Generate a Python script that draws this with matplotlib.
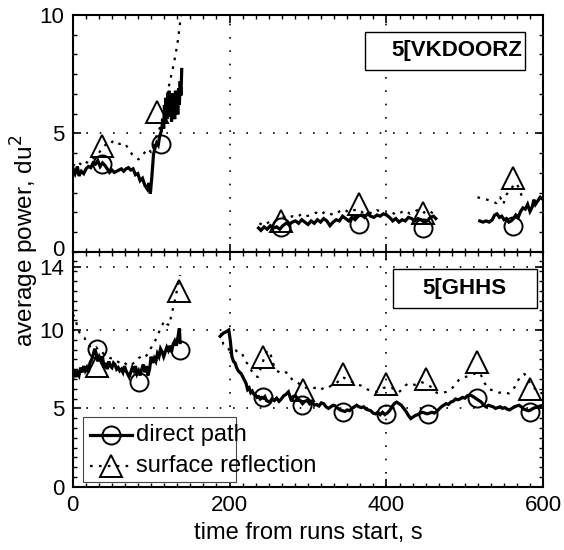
import numpy as np
import matplotlib
matplotlib.use("Agg")
import matplotlib.pyplot as plt
from matplotlib.ticker import MultipleLocator
from matplotlib.patches import Rectangle
from matplotlib.transforms import ScaledTranslation

plt.rcParams['font.family'] = ['Liberation Sans', 'DejaVu Sans']

nan = np.nan

# ---------------- top panel ("5[VKDOORZ") ----------------
top_direct_t = [0, 3, 6, 8, 11, 14, 17, 20, 23, 26, 29, 32, 35, 38, 41, 44, 47, 50, 53, 56, 59, 62, 65, 68, 71, 74, 77,
                80, 83, 86, 89, 92, 95, 97, 99, 101, 103, 105, 107, 109, 111, 113, 115, 116, 117, 118, 119, 120, 121,
                122, 123, 124, 125, 126, 127, 128, 129, 130, 131, 132, 133, 134, 135, 136, 137, 138, 139,
                nan,
                237, 240, 244, 248, 252, 256, 260, 264, 268, 272, 276, 280, 284, 288, 292, 296, 300, 304, 308, 312,
                316, 320, 324, 328, 332, 336, 340, 344, 348, 352, 356, 360, 364, 368, 372, 376, 380, 384, 388, 392,
                396, 400, 404, 408, 412, 416, 420, 424, 428, 432, 436, 440, 444, 448, 452, 456, 460, 463,
                nan,
                519, 523, 527, 531, 535, 538, 541, 544, 547, 550, 553, 556, 559, 562, 565, 568, 571, 574, 577, 580,
                583, 586, 588, 590, 593, 596, 600]
top_direct_v = [3.55, 3.3, 3.6, 3.2, 3.4, 3.3, 3.5, 3.6, 3.55, 3.75, 3.7, 3.85, 3.6, 3.75, 3.65, 3.5, 3.35, 3.45, 3.35,
                3.4, 3.45, 3.5, 3.4, 3.5, 3.55, 3.45, 3.5, 3.25, 3.3, 3.0, 3.1, 2.8, 2.65, 2.9, 2.45, 3.2, 4.1, 4.4,
                4.6, 4.5, 4.9, 5.1, 5.6, 5.2, 6.2, 5.5, 6.5, 5.6, 6.6, 5.7, 6.8, 5.8, 6.4, 5.5, 6.7, 5.9, 6.5, 5.6,
                6.8, 6.0, 6.6, 5.8, 6.9, 6.2, 7.2, 6.6, 7.7,
                nan,
                1.0, 0.9, 1.05, 0.95, 1.1, 1.0, 1.05, 0.95, 1.1, 1.2, 1.15, 1.25, 1.3, 1.2, 1.35, 1.25, 1.15, 1.3,
                1.2, 1.35, 1.25, 1.4, 1.3, 1.1, 1.25, 1.35, 1.3, 1.5, 1.4, 1.3, 1.45, 1.35, 1.5, 1.55, 1.45, 1.6,
                1.5, 1.45, 1.55, 1.5, 1.6, 1.55, 1.45, 1.3, 1.4, 1.25, 1.35, 1.3, 1.45, 1.4, 1.3, 1.4, 1.35, 1.25,
                1.3, 1.45, 1.5, 1.4,
                nan,
                1.3, 1.25, 1.3, 1.25, 1.35, 1.55, 1.6, 1.45, 1.5, 1.35, 1.4, 1.25, 1.3, 1.4, 1.55, 1.45, 1.7, 1.85,
                1.8, 2.0, 1.7, 1.9, 2.2, 2.0, 2.15, 2.3, 2.2]

top_surf_t = [0, 4, 8, 12, 16, 20, 24, 28, 32, 36, 40, 44, 48, 52, 56, 60, 64, 68, 72, 76, 80, 84, 88, 92, 96, 100,
              104, 108, 112, 116, 120, 124, 128, 131, 134, 137, 140,
              nan,
              238, 244, 250, 256, 262, 268, 274, 280, 286, 292, 298, 304, 310, 316, 322, 328, 334, 340, 346, 352,
              358, 364, 370, 376, 382, 388, 394, 400, 406, 412, 418, 424, 430, 436, 442, 448, 454, 460,
              nan,
              516, 522, 528, 534, 540, 545, 549, 553, 557, 561, 565, 569, 573]
top_surf_v = [3.7, 3.6, 3.75, 3.65, 3.8, 3.75, 3.9, 4.0, 4.1, 4.3, 4.45, 4.6, 4.55, 4.7, 4.6, 4.55, 4.6, 4.5, 4.3,
              4.1, 4.0, 3.9, 4.05, 4.2, 4.35, 4.2, 4.6, 5.0, 5.3, 5.9, 6.6, 7.2, 7.8, 8.3, 8.9, 9.7, 10.4,
              nan,
              1.2, 1.1, 1.25, 1.35, 1.3, 1.45, 1.4, 1.5, 1.45, 1.6, 1.5, 1.55, 1.65, 1.55, 1.7, 1.6, 1.55, 1.7,
              1.8, 1.65, 1.75, 1.8, 1.65, 1.7, 1.6, 1.75, 1.7, 1.6, 1.7, 1.55, 1.65, 1.75, 1.6, 1.7, 1.8, 1.65,
              1.75, 1.6,
              nan,
              2.3, 2.25, 2.2, 2.15, 2.05, 2.3, 2.0, 2.4, 2.6, 2.75, 2.9, 2.7, 2.3]

top_circ_t = [37, 112, 265, 365, 447, 561]
top_circ_v = [3.7, 4.55, 1.03, 1.18, 1.0, 1.1]
top_tri_t = [37, 108, 265, 365, 447, 561]
top_tri_v = [4.45, 5.9, 1.3, 2.0, 1.65, 3.1]

# ---------------- bottom panel ("5[GHHS") ----------------
bot_direct_t = [0, 2, 4, 6, 8, 10, 12, 14, 16, 18, 20, 22, 24, 26, 28, 30, 32, 34, 36, 38, 40, 42, 44, 46, 48, 50,
                52, 54, 56, 58, 60, 62, 64, 66, 68, 70, 72, 74, 76, 78, 80, 82, 84, 86, 88, 90, 92, 94, 96, 98,
                100, 102, 104, 106, 108, 110, 112, 114, 116, 118, 120, 122, 124, 126, 128, 130, 132, 134, 136, 137,
                nan,
                188, 192, 196, 199, 201, 203, 205, 207, 209, 211, 213, 215, 217, 219, 221, 223, 225, 227, 229, 231,
                233, 235, 237, 239, 241, 243, 245, 247, 249, 251, 254, 257, 260, 263, 266, 269, 272, 275, 278, 281,
                284, 287, 290, 293, 296, 299, 302, 305, 308, 311, 314, 317, 320, 323, 326, 329, 332, 335, 338, 341,
                344, 347, 350, 353, 356, 359, 362, 365, 368, 371, 374, 377, 380, 383, 386, 389, 392, 395, 398, 401,
                404, 407, 410, 413, 416, 419, 422, 425, 428, 431, 434, 437, 440, 443, 446, 449, 452, 455, 458, 461,
                464, 467, 470, 473, 476, 479, 482, 485, 488, 491, 494, 497, 500, 503, 506, 509, 512, 515, 518, 521,
                524, 527, 530, 533, 536, 539, 542, 545, 548, 551, 554, 557, 560, 563, 566, 569, 572, 575, 578, 581,
                584, 587, 590, 593, 596, 600]
bot_direct_v = [6.9, 7.5, 7.0, 7.3, 7.1, 7.6, 7.3, 7.7, 7.4, 7.6, 7.3, 7.9, 8.1, 8.4, 8.8, 8.5, 8.0, 8.3, 8.1, 8.3,
                7.6, 7.9, 7.5, 8.0, 7.7, 7.6, 7.9, 7.8, 7.5, 7.6, 7.4, 7.5, 7.3, 7.7, 7.4, 7.2, 7.0, 7.3, 7.6, 7.4,
                7.7, 7.2, 7.4, 7.1, 7.5, 7.8, 7.3, 7.7, 7.1, 7.5, 8.3, 7.9, 8.2, 8.0, 8.5, 8.3, 8.8, 8.6, 8.3, 8.6,
                8.9, 8.7, 9.0, 8.6, 9.1, 9.3, 9.0, 9.5, 10.1, 9.2,
                nan,
                9.6, 9.8, 9.9, 10.0, 9.3, 8.3, 8.0, 7.9, 7.6, 7.4, 7.3, 7.2, 7.0, 6.8, 6.6, 6.2, 6.3, 6.0, 6.1, 5.9,
                5.85, 5.7, 5.75, 5.6, 5.7, 5.65, 5.75, 5.5, 5.45, 5.4, 5.6, 5.5, 5.65, 5.45, 5.6, 5.8, 5.9, 6.05,
                5.6, 5.75, 5.8, 5.6, 5.5, 5.3, 5.45, 5.5, 5.3, 5.45, 5.2, 5.25, 5.15, 5.35, 5.3, 5.1, 5.0, 5.1, 5.2,
                5.15, 5.0, 4.9, 4.85, 4.8, 4.9, 4.85, 5.0, 5.1, 5.2, 5.1, 5.05, 5.1, 4.95, 4.9, 4.85, 4.7, 4.65,
                4.75, 4.6, 4.75, 4.6, 4.7, 4.85, 5.1, 5.3, 5.4, 5.3, 5.2, 5.0, 4.8, 4.55, 4.35, 4.45, 4.55, 4.6,
                4.7, 4.75, 4.7, 4.65, 4.7, 4.75, 4.7, 4.8, 4.95, 5.1, 5.2, 5.3, 5.25, 5.4, 5.45, 5.6, 5.55, 5.6,
                5.7, 5.65, 5.8, 5.85, 5.8, 5.7, 5.6, 5.5, 5.4, 5.2, 5.1, 5.2, 5.15, 5.1, 5.0, 5.05, 5.1, 5.0, 5.05,
                4.95, 4.9, 5.0, 5.1, 5.15, 5.2, 5.1, 4.95, 4.9, 4.85, 4.9, 5.0, 5.05, 5.1, 5.15, 5.2]

bot_surf_t = [0, 3, 6, 9, 12, 15, 18, 21, 24, 27, 30, 33, 36, 39, 42, 45, 48, 51, 54, 57, 60, 63, 66, 69, 72, 75,
              78, 81, 84, 87, 90, 93, 96, 99, 102, 105, 108, 111, 114, 117, 120, 123, 126, 129, 132, 135, 137,
              nan,
              189, 192, 196, 200, 204, 208, 212, 216, 220, 224, 228, 232, 236, 240, 244, 248, 252, 256, 260, 264,
              268, 272, 276, 280, 284, 288, 292, 296, 300, 304, 308, 312, 316, 320, 324, 328, 332, 336, 340, 344,
              348, 352, 356, 360, 364, 368, 372, 376, 380, 384, 388, 392, 396, 400, 404, 408, 412, 416, 420, 424,
              428, 432, 436, 440, 444, 448, 452, 456, 460, 464, 468, 472, 476, 480, 484, 488, 492, 496, 500, 504,
              508, 512, 516, 520, 524, 528, 532, 536, 540, 544, 548, 552, 556, 560, 564, 568, 572, 576, 580, 584,
              588, 592, 596, 600]
bot_surf_v = [11.0, 10.8, 10.2, 9.8, 9.6, 9.5, 9.2, 9.0, 8.9, 8.8, 8.9, 8.7, 8.7, 8.5, 8.4, 8.3, 8.2, 8.2, 8.1,
              8.0, 7.9, 7.8, 7.9, 7.8, 7.9, 7.8, 7.9, 8.0, 8.2, 8.3, 8.4, 8.3, 8.5, 8.8, 9.0, 9.3, 9.6, 10.0,
              10.3, 10.6, 10.4, 10.3, 11.0, 11.6, 12.3, 13.0, 13.5,
              nan,
              9.8, 9.1, 9.0, 8.7, 8.6, 8.7, 8.5, 8.5, 8.0, 7.8, 7.4, 7.1, 7.0, 7.6, 8.2, 8.7, 8.5, 7.8, 7.4, 7.3,
              7.2, 7.3, 7.2, 6.8, 6.7, 6.6, 6.4, 6.3, 6.35, 6.4, 6.3, 6.35, 6.2, 6.3, 6.25, 6.4, 6.55, 6.6, 6.8,
              7.0, 6.9, 6.75, 6.7, 6.6, 6.5, 6.45, 6.35, 6.2, 6.15, 6.1, 6.05, 6.15, 6.3, 6.35, 6.25, 6.3, 6.15,
              6.05, 6.2, 6.45, 6.6, 6.55, 6.5, 6.6, 6.7, 6.6, 6.5, 6.4, 6.2, 6.0, 5.95, 6.0, 6.05, 6.15, 6.3, 6.55,
              6.8, 6.95, 7.0, 7.05, 7.1, 7.2, 7.3, 7.2, 6.7, 6.4, 6.2, 6.15, 6.05, 6.0, 6.05, 6.0, 5.95, 6.1, 6.4,
              6.8, 7.1, 7.2, 6.9, 6.5, 6.35, 6.1, 5.95, 6.0]

bot_circ_t = [31, 84, 137, 243, 292, 345, 400, 453, 515, 583]
bot_circ_v = [8.8, 6.7, 8.75, 5.7, 5.2, 4.78, 4.67, 4.67, 5.63, 4.78]
bot_tri_t = [31, 135, 243, 294, 345, 399, 451, 515, 583]
bot_tri_v = [7.7, 12.5, 8.28, 6.16, 7.22, 6.55, 6.9, 7.96, 6.26]

panel_labels = ["5[VKDOORZ", "5[GHHS"]
legend_labels = ["direct path", "surface reflection"]
x_ticks = [0, 200, 400, 600]
top_yticks = [0, 5, 10]
bot_yticks = [0, 5, 10, 14]

# ---------------- figure ----------------
W, H = 564, 550
fig = plt.figure(figsize=(W / 100, H / 100), dpi=100)
L = 72.7 / W
R = 543.3 / W
ax_top = fig.add_axes([L, 1 - 251.7 / H, R - L, (251.7 - 15) / H])
ax_bot = fig.add_axes([L, 1 - 486.7 / H, R - L, (486.7 - 251.7) / H])

direct_kw = dict(color='black', lw=2.3, solid_joinstyle='miter')
surf_kw = dict(color='black', lw=1.6, linestyle=(0, (1.2, 2.8)))
circ_kw = dict(ls='none', marker='o', ms=13, mfc='none', mec='black', mew=1.4)
tri_kw = dict(ls='none', marker='^', ms=16, mfc='none', mec='black', mew=1.4)

for ax, dt, dv, st, sv, ct, cv, tt, tv in [
        (ax_top, top_direct_t, top_direct_v, top_surf_t, top_surf_v, top_circ_t, top_circ_v, top_tri_t, top_tri_v),
        (ax_bot, bot_direct_t, bot_direct_v, bot_surf_t, bot_surf_v, bot_circ_t, bot_circ_v, bot_tri_t, bot_tri_v)]:
    ax.plot(st, sv, **surf_kw)
    ax.plot(dt, dv, **direct_kw)
    ax.plot(ct, cv, **circ_kw)
    ax.plot(tt, tv, **tri_kw)
    ax.set_xlim(0, 600)
    ax.set_xticks(x_ticks)
    ax.xaxis.set_minor_locator(MultipleLocator(200 / 12))
    ax.grid(True, which='major', color='black', linestyle=(0, (1, 7)), lw=1.2)
    ax.tick_params(which='both', direction='in', top=True, right=True, labelsize=16, width=1.2)
    ax.tick_params(which='major', length=6, pad=6)
    ax.tick_params(which='minor', length=3, width=1.0)
    for s in ax.spines.values():
        s.set_linewidth(1.5)

ax_top.set_ylim(0, 10)
ax_top.set_yticks(top_yticks)
ax_top.yaxis.set_minor_locator(MultipleLocator(5 / 6))
ax_top.tick_params(labelbottom=False)
# nudge the top panel's "0" label up a little so it does not sit on the "14" below
zero_lbl = ax_top.get_yticklabels()[0]
zero_lbl.set_transform(zero_lbl.get_transform() + ScaledTranslation(0, 3 / 72, fig.dpi_scale_trans))

ax_bot.set_ylim(0, 15)
ax_bot.set_yticks(bot_yticks)
ax_bot.yaxis.set_minor_locator(MultipleLocator(0.625))
ax_bot.set_xlabel("time from runs start, s", fontsize=17, labelpad=4)

fig.text(0.045, 0.562, "average power, du$^2$", rotation=90, ha='center', va='center', fontsize=17.5)

# panel labels in boxes
ax_top.add_patch(Rectangle((0.621, 0.768), 0.961 - 0.621, 0.928 - 0.768, transform=ax_top.transAxes,
                           fill=True, fc='white', ec='black', lw=1.0, zorder=5))
ax_top.text(0.955, 0.848, panel_labels[0], transform=ax_top.transAxes, ha='right', va='center',
            fontsize=16, fontweight='bold', zorder=6)
ax_bot.add_patch(Rectangle((0.680, 0.762), 0.986 - 0.680, 0.925 - 0.762, transform=ax_bot.transAxes,
                           fill=True, fc='white', ec='black', lw=1.0, zorder=5))
ax_bot.text(0.833, 0.843, panel_labels[1], transform=ax_bot.transAxes, ha='center', va='center',
            fontsize=16, fontweight='bold', zorder=6)

# legend (drawn MATLAB-style, text overflowing the frame)
ax_bot.add_patch(Rectangle((0.021, 0.021), 0.348 - 0.021, 0.298 - 0.021, transform=ax_bot.transAxes,
                           fill=True, fc='white', ec='#444444', lw=0.8, zorder=5))
hx = [0.0368, 0.1257]
hc = 0.081
ax_bot.plot(hx, [0.222, 0.222], transform=ax_bot.transAxes, clip_on=False, zorder=6, **direct_kw)
ax_bot.plot([hc], [0.222], transform=ax_bot.transAxes, clip_on=False, zorder=6, **circ_kw)
ax_bot.plot(hx, [0.088, 0.088], transform=ax_bot.transAxes, clip_on=False, zorder=6, **surf_kw)
ax_bot.plot([hc], [0.088], transform=ax_bot.transAxes, clip_on=False, zorder=6, **tri_kw)
ax_bot.text(0.135, 0.222, legend_labels[0], transform=ax_bot.transAxes, ha='left', va='center',
            fontsize=17, zorder=7)
ax_bot.text(0.135, 0.088, legend_labels[1], transform=ax_bot.transAxes, ha='left', va='center',
            fontsize=17, zorder=7)

fig.savefig("out.png", dpi=100)
